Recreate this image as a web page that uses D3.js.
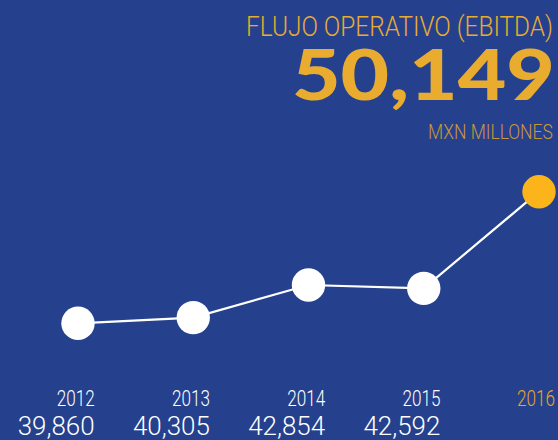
<!DOCTYPE html>
<html>
<head>
<meta charset="utf-8">
<script src="https://cdn.jsdelivr.net/npm/d3@7"></script>
<style>
  html, body { margin: 0; padding: 0; background: #25418e; }
  svg { display: block; }
</style>
</head>
<body>
<div id="chart"></div>
<script>
width = 558;
height = 440;

//////// Data ////////
const years = ['2012', '2013', '2014', '2015', '2016'];
const values = [39860, 40305, 42854, 42592, 50149];
const valueLabels = ['39,860', '40,305', '42,854', '42,592', ''];
const title = 'FLUJO OPERATIVO (EBITDA)';
const headline = '50,149';
const unit = 'MXN MILLONES';

const gold = '#e9ac2f';
const dotGold = '#fbb51b';
const r = 16.7;

const data = years.map((y, i) => ({year: y, value: values[i], label: valueLabels[i]}));

//////// Scales ////////
const xScale = d3.scalePoint()
    .domain(years)
    .range([78, 539]);

const yScale = d3.scaleLinear()
    .domain([39860, 50149])
    .range([323.3, 191.7]);

var svg = d3.select('#chart')
    .append('svg')
    .attr('width', width)
    .attr('height', height);

svg.append('rect')
    .attr('width', width)
    .attr('height', height)
    .attr('fill', '#25418e');

// squeeze a text horizontally so it ends at xRight and is w pixels wide
// (the reference uses a condensed face we don't have)
function fit(sel, xRight, y, w) {
    sel.each(function(d) {
        const t = d3.select(this).attr('x', 0).attr('y', 0).attr('text-anchor', 'start');
        const right = typeof xRight === 'function' ? xRight(d) : xRight;
        const len = this.getComputedTextLength();
        t.attr('transform', `translate(${right - w},${y}) scale(${w / len},1)`);
    });
}

//////// Header ////////
svg.append('text')
    .style('font-family', 'Roboto')
    .style('font-weight', 300)
    .style('font-size', '28px')
    .attr('fill', gold)
    .text(title)
    .call(fit, 553, 36, 307);

svg.append('text')
    .style('font-family', 'Lato')
    .style('font-weight', 900)
    .style('font-size', '70px')
    .attr('fill', gold)
    .text(headline)
    .call(fit, 555, 100, 263);

svg.append('text')
    .style('font-family', 'Roboto')
    .style('font-weight', 300)
    .style('font-size', '20px')
    .attr('fill', '#c9973a')
    .text(unit)
    .call(fit, 553, 139, 125);

//////// Line + dots ////////
const line = d3.line()
    .x(d => xScale(d.year))
    .y(d => yScale(d.value));

svg.append('path')
    .datum(data)
    .attr('d', line)
    .attr('fill', 'none')
    .attr('stroke', 'white')
    .attr('stroke-width', 2.2);

svg.selectAll('circle.dot')
    .data(data)
    .join('circle')
    .attr('class', 'dot')
    .attr('cx', d => xScale(d.year))
    .attr('cy', d => yScale(d.value))
    .attr('r', r)
    .attr('fill', (d, i) => i === data.length - 1 ? dotGold : 'white');

//////// Labels ////////
svg.selectAll('text.year')
    .data(data)
    .join('text')
    .attr('class', 'year')
    .style('font-family', 'Roboto')
    .style('font-weight', 300)
    .style('font-size', '22px')
    .attr('fill', (d, i) => i === data.length - 1 ? '#e8a42a' : 'white')
    .text(d => d.year)
    .call(fit, d => Math.min(xScale(d.year) + r, 555), 406, 38);

svg.selectAll('text.val')
    .data(data.filter(d => d.label))
    .join('text')
    .attr('class', 'val')
    .style('font-family', 'Roboto')
    .style('font-weight', 300)
    .style('font-size', '26px')
    .attr('fill', 'white')
    .text(d => d.label)
    .call(fit, d => xScale(d.year) + r, 435, 77);
</script>
</body>
</html>
